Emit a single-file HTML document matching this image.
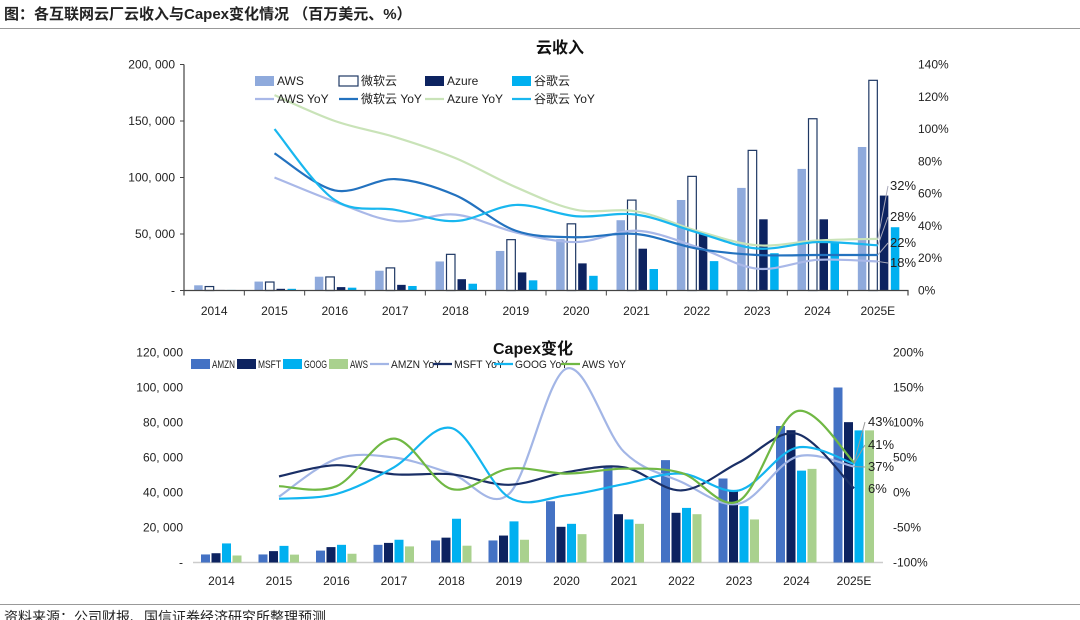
<!DOCTYPE html>
<html><head><meta charset="utf-8">
<style>
html,body{margin:0;padding:0;background:#fff;}
svg{display:block;font-family:"Liberation Sans","Noto Sans CJK SC",sans-serif;}
</style></head>
<body>
<svg id="s" width="1080" height="620" viewBox="0 0 1080 620" xmlns="http://www.w3.org/2000/svg">
<text x="4" y="19" font-size="15" font-weight="bold" fill="#222">图：各互联网云厂云收入与Capex变化情况 （百万美元、%）</text>
<line x1="0" y1="28.5" x2="1080" y2="28.5" stroke="#999" stroke-width="1"/>
<text x="560" y="53" font-size="16" font-weight="bold" text-anchor="middle" fill="#111">云收入</text>
<text x="533" y="354" font-size="16" font-weight="bold" text-anchor="middle" fill="#111">Capex变化</text>
<line x1="0" y1="604.5" x2="1080" y2="604.5" stroke="#999" stroke-width="1"/>
<text x="4" y="622" font-size="14" fill="#222">资料来源：公司财报、国信证券经济研究所整理预测</text>
<g id="top"></g>
<g id="bot"></g>
</svg>
<script>
// ---- Top chart data (云收入) ----
const topCats = ["2014","2015","2016","2017","2018","2019","2020","2021","2022","2023","2024","2025E"];
const awsRev = [4.6,7.9,12.2,17.5,25.7,35,45.4,62.2,80.1,90.8,107.6,127];
const msftRev = [3.5,7.5,12,20,32,45,59,80,101,124,152,186];
const azureRev = [0.5,1.5,3,5,10,16,24,37,50,63,63,84];
const googRev = [0.5,1.5,2.5,4,6,9,13,19,26,33,43,56];
const awsYoY = [null,70,55,43,47,36,30,37,27,13.5,19,18];
const msftYoY = [null,85,62,69,59,37,33,35,26,22,22,22];
const azureYoY = [null,121,105,95,82,64,50,49,37,28,31,32];
const googYoY = [null,100,56,50,43,53,46,47,36,26,30,28];
const topLeftTicks = ["-","50, 000","100, 000","150, 000","200, 000"];
const topRightTicks = ["0%","20%","40%","60%","80%","100%","120%","140%"];
const topEndLabels = ["32%","28%","22%","18%"];
// ---- Bottom chart data (Capex) ----
const botCats = ["2014","2015","2016","2017","2018","2019","2020","2021","2022","2023","2024","2025E"];
const amznCap = [4.6,4.6,6.8,10.1,12.6,12.6,35,55.4,58.5,48,78,100];
const msftCap = [5.3,6.5,8.8,11.2,14.2,15.4,20.4,27.6,28.4,40.6,75.6,80.2];
const googCap = [10.9,9.5,10.1,13,25,23.5,22.1,24.6,31.2,32.2,52.5,75.5];
const awsCap = [4,4.5,5,9.2,9.6,13,16.2,22.1,27.6,24.6,53.5,75.5];
const amznYoY = [null,-6,48,50,27,-2,177,58,15,-16,51,37];
const msftCapYoY = [null,23,39,26,26,11,29,36,3,43,84,6];
const googCapYoY = [null,-9,-2,36,92,-7,-4,12,27,3,64,41];
const awsCapYoY = [null,9,9,77,5,34,27,34,28,-12,116,43];
const botLeftTicks = ["-","20, 000","40, 000","60, 000","80, 000","100, 000","120, 000"];
const botRightTicks = ["-100%","-50%","0%","50%","100%","150%","200%"];
const botEndLabels = ["43%","41%","37%","6%"];

const NS="http://www.w3.org/2000/svg";
function mk(parent,tag,attrs,txt){const e=document.createElementNS(NS,tag);for(const k in attrs)e.setAttribute(k,attrs[k]);if(txt!=null)e.textContent=txt;parent.appendChild(e);return e;}
function smooth(pts){
  let d="M"+pts[0][0]+","+pts[0][1];
  for(let i=0;i<pts.length-1;i++){
    const p0=pts[i-1]||pts[i],p1=pts[i],p2=pts[i+1],p3=pts[i+2]||pts[i+1];
    const t=1/6;
    const c1=[p1[0]+(p2[0]-p0[0])*t,p1[1]+(p2[1]-p0[1])*t];
    const c2=[p2[0]-(p3[0]-p1[0])*t,p2[1]-(p3[1]-p1[1])*t];
    d+=" C"+c1[0]+","+c1[1]+" "+c2[0]+","+c2[1]+" "+p2[0]+","+p2[1];
  }
  return d;
}

// ===== TOP CHART =====
(function(){
  const g=document.getElementById('top');
  const x0=184,x1=908,y0=290.5,y1=64.5;
  const cw=(x1-x0)/topCats.length;
  const xc=i=>x0+cw*(i+0.5);
  const yL=v=>y0-(v/200)*(y0-y1);
  const yR=v=>y0-(v/140)*(y0-y1);
  topLeftTicks.forEach((t,i)=>{
    const y=y0-i*(y0-y1)/4;
    const e=mk(g,'text',{x:175,y:y+4,'font-size':12,'text-anchor':'end',fill:'#222'},t);
    
    
    const tk=mk(g,'line',{x1:x0-4,x2:x0,y1:y,y2:y,stroke:'#444'});
    
    
  });
  topRightTicks.forEach((t,i)=>{
    const y=y0-i*(y0-y1)/7;
    const e=mk(g,'text',{x:918,y:y+4,'font-size':12,fill:'#222'},t);
    
    
  });
  const series=[[awsRev,'#8faadc','none'],[msftRev,'#fff','#1f3864'],[azureRev,'#0d2360','none'],[googRev,'#00b0f0','none']];
  topCats.forEach((c,i)=>{
    series.forEach((s,j)=>{
      const v=s[0][i];const y=yL(v);
      const r=mk(g,'rect',{x:xc(i)-20+j*11,y:y,width:8.5,height:y0-y,fill:s[1],stroke:s[2],'stroke-width':s[2]=='none'?0:1.2});
      
      
    });
    const t=mk(g,'text',{x:xc(i),y:315,'font-size':12,'text-anchor':'middle',fill:'#222'},c);
    
    
    const tk=mk(g,'line',{x1:x0+cw*(i+1),x2:x0+cw*(i+1),y1:y0,y2:y0+5,stroke:'#444'});
    
    
  });
  const ax=mk(g,'path',{d:`M${x0},${y1} V${y0} H${x1} V${y0+5} M${x0},${y0} v5`,stroke:'#444',fill:'none','stroke-width':1.2});
  
  
  const lines=[[awsYoY,'#a9b8e8','aws-yoy'],[msftYoY,'#2372bf','msft-cloud-yoy'],[azureYoY,'#c9e3b8','azure-yoy'],[googYoY,'#19b7ef','google-cloud-yoy']];
  lines.forEach(l=>{
    const pts=[];l[0].forEach((v,i)=>{if(v!=null)pts.push([xc(i),yR(v)]);});
    const p=mk(g,'path',{d:smooth(pts),stroke:l[1],fill:'none','stroke-width':2.2});
    
    
  });
  const endY=[azureYoY,googYoY,msftYoY,awsYoY].map(a=>yR(a[a.length-1]));
  const labY=[190,221,247,267];
  topEndLabels.forEach((t,i)=>{
    const ll=mk(g,'line',{x1:xc(11),y1:endY[i],x2:888,y2:labY[i]-4,stroke:'#aab',"stroke-width":1});
    
    
    const e=mk(g,'text',{x:890,y:labY[i],'font-size':13,fill:'#222'},t);
    
    
  });
  const leg=[["AWS",255,81,'rect','#8faadc'],["微软云",339,81,'orect','#1f3864'],["Azure",425,81,'rect','#0d2360'],["谷歌云",512,81,'rect','#00b0f0'],
    ["AWS YoY",255,99,'line','#a9b8e8'],["微软云 YoY",339,99,'line','#2372bf'],["Azure YoY",425,99,'line','#c9e3b8'],["谷歌云 YoY",512,99,'line','#19b7ef']];
  leg.forEach(L=>{
    let m;
    if(L[3]=='line') m=mk(g,'line',{x1:L[1],x2:L[1]+19,y1:L[2],y2:L[2],stroke:L[4],'stroke-width':2.2});
    else if(L[3]=='orect') m=mk(g,'rect',{x:L[1],y:L[2]-5,width:19,height:10,fill:'#fff',stroke:L[4],'stroke-width':1.2});
    else m=mk(g,'rect',{x:L[1],y:L[2]-5,width:19,height:10,fill:L[4]});
    
    
    const t=mk(g,'text',{x:L[1]+22,y:L[2]+4,'font-size':12,fill:'#222'},L[0]);
    
    
  });
})();

// ===== BOTTOM CHART =====
(function(){
  const g=document.getElementById('bot');
  const x0=193,x1=883,y0=562.5,y1=352.5;
  const cw=57.5;
  const xc=i=>221.5+cw*i;
  const yL=v=>y0-(v/120)*(y0-y1);
  const yR=v=>y0-((v+100)/300)*(y0-y1);
  botLeftTicks.forEach((t,i)=>{
    const y=y0-i*(y0-y1)/6;
    const e=mk(g,'text',{x:183,y:y+4,'font-size':12,'text-anchor':'end',fill:'#222'},t);
    
    
  });
  botRightTicks.forEach((t,i)=>{
    const y=y0-i*(y0-y1)/6;
    const e=mk(g,'text',{x:893,y:y+4,'font-size':12,fill:'#222'},t);
    
    
  });
  const ax=mk(g,'line',{x1:x0,x2:x1,y1:y0,y2:y0,stroke:'#ccc','stroke-width':1.5});
  
  
  const series=[[amznCap,'#4472c4'],[msftCap,'#0d2360'],[googCap,'#00b0f0'],[awsCap,'#a9d18e']];
  botCats.forEach((c,i)=>{
    series.forEach((s,j)=>{
      const y=yL(s[0][i]);
      const r=mk(g,'rect',{x:xc(i)-20.5+j*10.5,y:y,width:9,height:y0-y,fill:s[1]});
      
      
    });
    const t=mk(g,'text',{x:xc(i),y:585,'font-size':12,'text-anchor':'middle',fill:'#222'},c);
    
    
  });
  const lines=[[amznYoY,'#a3b6e6','amzn-yoy'],[msftCapYoY,'#1a2f66','msft-yoy'],[googCapYoY,'#13b5f0','goog-yoy'],[awsCapYoY,'#70b844','aws-yoy']];
  lines.forEach(l=>{
    const pts=[];l[0].forEach((v,i)=>{if(v!=null)pts.push([xc(i),yR(v)]);});
    const p=mk(g,'path',{d:smooth(pts),stroke:l[1],fill:'none','stroke-width':2.2});
    
    
  });
  const labY=[426,449,471,493];
  const endY=[awsCapYoY,googCapYoY,amznYoY,msftCapYoY].map(a=>yR(a[a.length-1]));
  botEndLabels.forEach((t,i)=>{
    if(i<3){
      const ll=mk(g,'line',{x1:xc(11),y1:endY[i],x2:865,y2:labY[i]-4,stroke:'#999','stroke-width':1});
      
      
    }
    const e=mk(g,'text',{x:868,y:labY[i],'font-size':13,fill:'#222'},t);
    
    
  });
  const leg=[["AMZN",191,'rect','#4472c4',23],["MSFT",237,'rect','#0d2360',23],["GOOG",283,'rect','#00b0f0',23],["AWS",329,'rect','#a9d18e',18],
    ["AMZN YoY",370,'line','#a3b6e6',50],["MSFT YoY",433,'line','#1a2f66',50],["GOOG YoY",494,'line','#13b5f0',53],["AWS YoY",561,'line','#70b844',44]];
  leg.forEach(L=>{
    let m;
    if(L[2]=='line') m=mk(g,'line',{x1:L[1],x2:L[1]+19,y1:364,y2:364,stroke:L[3],'stroke-width':2.2});
    else m=mk(g,'rect',{x:L[1],y:359,width:19,height:10,fill:L[3]});
    
    
    const t=mk(g,'text',{x:L[1]+21,y:368,'font-size':11,fill:'#222',textLength:L[4],lengthAdjust:'spacingAndGlyphs'},L[0]);
    
    
  });
})();
</script>
</body></html>
